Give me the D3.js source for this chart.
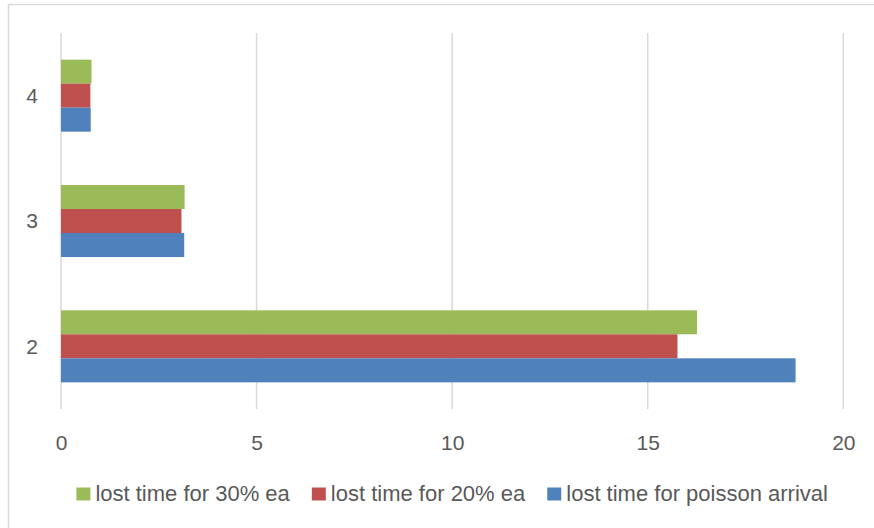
<!DOCTYPE html>
<html>
<head>
<meta charset="utf-8">
<script src="https://cdn.jsdelivr.net/npm/d3@7"></script>
<style>
  html, body { margin: 0; padding: 0; background: #fff; }
  svg { display: block; }
  text { font-family: "Liberation Sans", Arial, sans-serif; fill: #595959; }
</style>
</head>
<body>
<svg id="chart" width="874" height="528"></svg>
<script>
// ---- data ----
const categories = ["2", "3", "4"];
const seriesNames = ["lost time for 30% ea", "lost time for 20% ea", "lost time for poisson arrival"];
const seriesColors = ["#9bbb59", "#c0504d", "#4f81bd"];
const ea30 = [16.26, 3.16, 0.78];
const ea20 = [15.76, 3.08, 0.75];
const poisson = [18.78, 3.15, 0.76];
const xTicks = [0, 5, 10, 15, 20];

const seriesValues = [ea30, ea20, poisson];

const svg = d3.select("#chart");
const W = 874, H = 528;

// chart border (cropped on right/bottom)
svg.append("rect")
  .attr("x", 8.5).attr("y", 4.5)
  .attr("width", 900).attr("height", 600)
  .attr("fill", "#fff").attr("stroke", "#d9d9d9").attr("stroke-width", 1.5);

const plot = { left: 61, right: 843.3, top: 33, bottom: 409 };

const x = d3.scaleLinear().domain([0, 20]).range([plot.left, plot.right]);
const y = d3.scaleBand()
  .domain(categories.slice().reverse())
  .range([plot.top, plot.bottom])
  .paddingInner(0.4255).paddingOuter(0.4255 / 2);
const inner = d3.scaleBand().domain(seriesNames).range([0, y.bandwidth()]);

// gridlines
svg.append("g").selectAll("line").data(xTicks).join("line")
  .attr("x1", d => x(d)).attr("x2", d => x(d))
  .attr("y1", plot.top).attr("y2", plot.bottom)
  .attr("stroke", "#d9d9d9").attr("stroke-width", 1.5);

// bars
const groups = svg.append("g").selectAll("g").data(categories).join("g")
  .attr("transform", d => `translate(0,${y(d)})`);
groups.selectAll("rect")
  .data((c, ci) => seriesNames.map((s, si) => ({ s, si, v: seriesValues[si][ci] })))
  .join("rect")
  .attr("x", x(0))
  .attr("y", d => inner(d.s))
  .attr("width", d => x(d.v) - x(0))
  .attr("height", inner.bandwidth())
  .attr("fill", d => seriesColors[d.si]);

// x axis labels
const xAxis = d3.axisBottom(x).tickValues(xTicks).tickSize(0).tickPadding(0).tickFormat(d3.format("d"));
const gx = svg.append("g").attr("transform", `translate(0,${450})`).call(xAxis);
gx.select(".domain").remove();
gx.selectAll("text").attr("dy", 0).attr("font-size", 21).style("font-family", "Liberation Sans, Arial, sans-serif").attr("fill", "#595959");

// y axis labels
const yAxis = d3.axisLeft(y).tickSize(0).tickPadding(0);
const gy = svg.append("g").attr("transform", `translate(${38},0)`).call(yAxis);
gy.select(".domain").remove();
gy.selectAll("text").attr("dy", "0.35em").attr("font-size", 21).style("font-family", "Liberation Sans, Arial, sans-serif").attr("fill", "#595959");

// legend
const legend = svg.append("g");
const items = legend.selectAll("g").data(seriesNames).join("g");
items.append("rect").attr("width", 14).attr("height", 13).attr("y", -13)
  .attr("fill", (d, i) => seriesColors[i]);
items.append("text").attr("x", 19).attr("y", 0).attr("font-size", 22).text(d => d);
let cx = 0;
const gap = 22;
items.each(function () {
  const g = d3.select(this);
  const w = 19 + g.select("text").node().getComputedTextLength();
  g.attr("transform", `translate(${cx},0)`);
  cx += w + gap;
});
const total = cx - gap;
const center = (plot.left + plot.right) / 2;
legend.attr("transform", `translate(${center - total / 2},${500.5})`);
</script>
</body>
</html>
